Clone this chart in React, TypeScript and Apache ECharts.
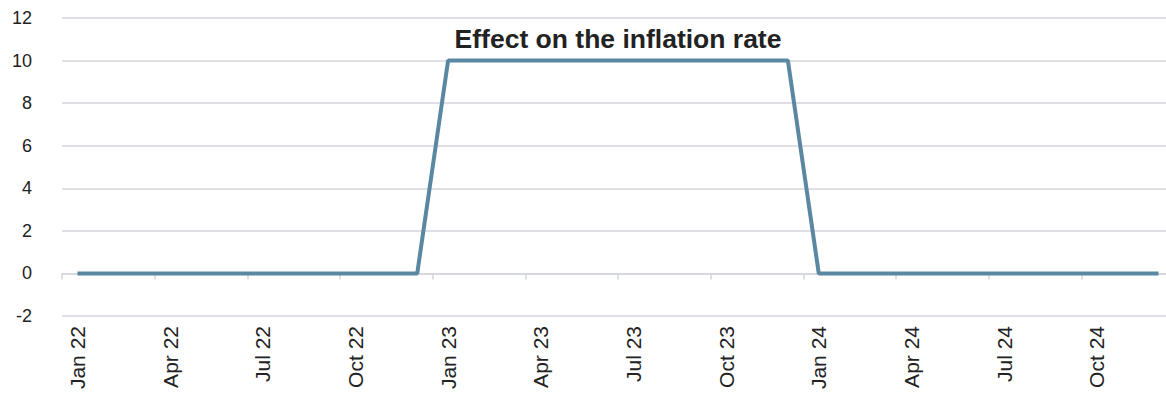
import React, { useEffect, useRef } from "react";
import * as echarts from "echarts";

const MONTHS = ["Jan", "Feb", "Mar", "Apr", "May", "Jun", "Jul", "Aug", "Sep", "Oct", "Nov", "Dec"];
const YEARS = ["22", "23", "24"];
const categories: string[] = YEARS.flatMap((y) => MONTHS.map((m) => `${m} ${y}`));
const values2022 = [0, 0, 0, 0, 0, 0, 0, 0, 0, 0, 0, 0];
const values2023 = [10, 10, 10, 10, 10, 10, 10, 10, 10, 10, 10, 10];
const values2024 = [0, 0, 0, 0, 0, 0, 0, 0, 0, 0, 0, 0];
const seriesValues = [...values2022, ...values2023, ...values2024];
const title = "Effect on the inflation rate";

export default function App() {
  const ref = useRef<HTMLDivElement>(null);
  useEffect(() => {
    document.body.style.margin = "0";
    const chart = echarts.init(ref.current!, undefined, { renderer: "svg" });
    chart.setOption({
      animation: false,
      textStyle: { fontFamily: "Liberation Sans, Arial, sans-serif" },
      grid: { left: 62, right: 0, top: 18, bottom: 79, containLabel: false },
      graphic: [
        {
          type: "text",
          x: 618,
          y: 39,
          style: {
            text: title,
            fontSize: 26.5,
            fontWeight: "bold",
            fill: "#222222",
            textAlign: "center",
            textVerticalAlign: "middle",
            fontFamily: "Liberation Sans, Arial, sans-serif",
          },
        },
      ],
      xAxis: {
        type: "category",
        data: categories,
        boundaryGap: true,
        axisLine: { show: true, lineStyle: { color: "#d3d6de", width: 1.5 } },
        axisTick: { show: true, interval: 2, length: 6, lineStyle: { color: "#d3d6de", width: 1.5 } },
        axisLabel: {
          interval: 2,
          rotate: 90,
          fontSize: 21,
          color: "#222222",
          margin: 10,
        },
        splitLine: { show: false },
      },
      yAxis: {
        type: "value",
        min: -2,
        max: 12,
        interval: 2,
        axisLine: { show: false },
        axisTick: { show: false },
        axisLabel: { fontSize: 18, color: "#222222", margin: 30 },
        splitLine: { show: true, lineStyle: { color: "#d3d6de", width: 1.5 } },
      },
      series: [
        {
          type: "line",
          data: seriesValues,
          symbol: "none",
          lineStyle: { color: "#5a87a1", width: 4 },
        },
      ],
    });
    return () => chart.dispose();
  }, []);
  return (
    <div style={{ width: 1166, height: 395, overflow: "hidden" }}>
      <div ref={ref} style={{ width: 1174, height: 395 }} />
    </div>
  );
}
